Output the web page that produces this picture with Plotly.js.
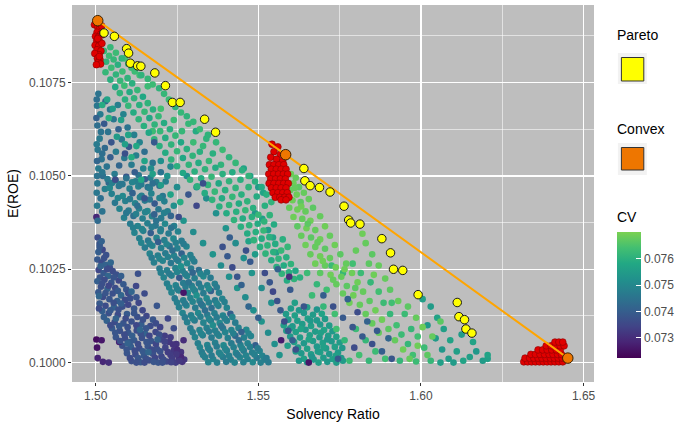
<!DOCTYPE html>
<html><head><meta charset="utf-8">
<script src="https://cdn.plot.ly/plotly-3.0.1.min.js"></script>
<style>html,body{margin:0;padding:0;background:#fff}#chart{width:685px;height:428px}</style>
</head><body><div id="chart"></div>
<script>
// ---- Data (x = Solvency Ratio, y = E(ROE), cv = CV) ----
const bandA = [
[1.5006,.10335,.0736],[1.5012,.10318,.0738],[1.5021,.10302,.0735],[1.5008,.10296,.0740],[1.5032,.10288,.0737],
[1.5005,.10276,.0739],[1.5018,.10268,.0736],[1.5030,.10262,.0741],[1.5043,.10255,.0737],[1.5009,.10248,.0735],[1.5024,.10240,.0739],[1.5052,.10245,.0736],[1.5038,.10232,.0742],[1.5063,.10236,.0737],[1.5013,.10228,.0738],
[1.5005,.10218,.0740],[1.5027,.10222,.0736],[1.5048,.10214,.0738],[1.5071,.10220,.0735],[1.5085,.10210,.0739],[1.5016,.10203,.0737],[1.5036,.10198,.0741],[1.5060,.10200,.0736],[1.5094,.10196,.0738],[1.5124,.10205,.0735],[1.5008,.10188,.0739],[1.5052,.10185,.0737],[1.5078,.10180,.0742],
[1.5022,.10176,.0736],[1.5042,.10170,.0738],[1.5066,.10165,.0740],[1.5090,.10168,.0736],[1.5106,.10172,.0737],[1.5132,.10160,.0735],[1.5012,.10158,.0739],[1.5030,.10152,.0736],[1.5056,.10148,.0741],[1.5082,.10150,.0737],[1.5118,.10145,.0738],[1.5144,.10140,.0735],[1.5020,.10138,.0740],
[1.5040,.10132,.0737],[1.5068,.10128,.0736],[1.5096,.10130,.0739],[1.5128,.10122,.0737],[1.5156,.10125,.0735],[1.5176,.10115,.0738],[1.5034,.10112,.0741],[1.5058,.10108,.0736],[1.5085,.10105,.0738],[1.5110,.10110,.0737],[1.5140,.10102,.0740],[1.5168,.10098,.0736],[1.5198,.10095,.0734],[1.5050,.10092,.0739],
[1.5074,.10085,.0737],[1.5100,.10080,.0738],[1.5126,.10086,.0736],[1.5152,.10078,.0741],[1.5184,.10082,.0735],[1.5212,.10072,.0733],[1.5062,.10068,.0738],[1.5090,.10065,.0736],[1.5118,.10060,.0739],[1.5142,.10066,.0737],[1.5170,.10058,.0738],[1.5200,.10062,.0735],[1.5226,.10055,.0732],[1.5248,.10050,.0731],
[1.5082,.10045,.0737],[1.5108,.10042,.0740],[1.5134,.10038,.0736],[1.5160,.10044,.0738],[1.5188,.10036,.0737],[1.5214,.10040,.0734],[1.5240,.10032,.0732],[1.5262,.10028,.0731],[1.5096,.10025,.0738],[1.5122,.10022,.0736],[1.5148,.10018,.0739],[1.5176,.10024,.0737],[1.5202,.10016,.0735],[1.5230,.10020,.0733],[1.5256,.10012,.0731],[1.5272,.10008,.0732],
[1.5110,.10004,.0737],[1.5138,.10001,.0739],[1.5164,.10006,.0736],[1.5192,.10000,.0738],[1.5218,.10003,.0735],[1.5246,.10000,.0733],[1.5266,.10002,.0731],
[1.5002,.10062,.0724],[1.5004,.10040,.0725],[1.5006,.10012,.0728],[1.5018,.10060,.0726],[1.5022,.10002,.0729],[1.5040,.10000,.0730],[1.5072,.10055,.0728],[1.5002,.10390,.0729],[1.5250,.10035,.0730],[1.5262,.10015,.0729],[1.5238,.10048,.0731],
[1.5150,.10185,.0736],[1.5188,.10152,.0738],[1.5130,.10238,.0737],[1.5222,.10118,.0735],[1.5240,.10092,.0736],[1.5270,.10060,.0730]
];
const bandAFill = [
[1.5012,.10310,.0739],[1.5026,.10280,.0737],[1.5015,.10258,.0741],[1.5035,.10250,.0736],[1.5055,.10228,.0738],[1.5020,.10212,.0737],[1.5040,.10206,.0735],[1.5068,.10192,.0739],[1.5100,.10186,.0736],[1.5030,.10186,.0738],
[1.5055,.10160,.0737],[1.5078,.10158,.0740],[1.5100,.10155,.0735],[1.5125,.10175,.0738],[1.5010,.10145,.0736],[1.5045,.10140,.0739],[1.5070,.10142,.0737],[1.5092,.10118,.0736],[1.5118,.10132,.0738],[1.5145,.10115,.0737],
[1.5025,.10122,.0740],[1.5045,.10100,.0736],[1.5072,.10098,.0739],[1.5098,.10095,.0737],[1.5125,.10100,.0735],[1.5155,.10092,.0738],[1.5185,.10105,.0736],[1.5060,.10080,.0738],[1.5088,.10075,.0736],[1.5112,.10072,.0740],
[1.5138,.10078,.0737],[1.5165,.10072,.0735],[1.5195,.10075,.0737],[1.5230,.10068,.0733],[1.5075,.10058,.0737],[1.5105,.10055,.0739],[1.5130,.10050,.0736],[1.5156,.10055,.0738],[1.5185,.10050,.0735],[1.5212,.10056,.0734],
[1.5095,.10035,.0738],[1.5120,.10032,.0736],[1.5145,.10030,.0739],[1.5172,.10035,.0736],[1.5198,.10030,.0737],[1.5222,.10028,.0733],[1.5248,.10022,.0732],[1.5105,.10012,.0736],[1.5130,.10012,.0738],[1.5155,.10010,.0737],
[1.5182,.10013,.0735],[1.5208,.10008,.0736],[1.5235,.10010,.0733],[1.5125,.10000,.0737],[1.5150,.10000,.0736],[1.5178,.10002,.0738],[1.5205,.10000,.0737],[1.5232,.10001,.0734],[1.5258,.10005,.0732],
[1.5018,.10325,.0741],[1.5046,.10268,.0742],[1.5078,.10232,.0740],[1.5110,.10190,.0742],[1.5010,.10178,.0742],[1.5062,.10118,.0741],[1.5136,.10088,.0742],[1.5098,.10052,.0741],[1.5162,.10028,.0742],[1.5190,.10062,.0741]
];
const bandBUpper = [
[1.5008,.10720,.0745],[1.5030,.10700,.0742],[1.5014,.10665,.0747],[1.5044,.10678,.0745],[1.5068,.10690,.0748],[1.5005,.10635,.0744],[1.5026,.10640,.0739],[1.5055,.10652,.0746],[1.5085,.10665,.0749],[1.5038,.10618,.0745],[1.5070,.10625,.0741],[1.5012,.10600,.0747],[1.5098,.10630,.0745],[1.5048,.10590,.0738],[1.5080,.10598,.0746],[1.5118,.10610,.0748],
[1.5006,.10570,.0746],[1.5028,.10575,.0743],[1.5062,.10565,.0747],[1.5102,.10578,.0739],[1.5135,.10590,.0749],[1.5018,.10545,.0745],[1.5045,.10550,.0740],[1.5088,.10548,.0746],[1.5124,.10555,.0748],[1.5150,.10565,.0744],[1.5008,.10520,.0747],[1.5034,.10525,.0745],[1.5072,.10528,.0742],[1.5110,.10530,.0747],[1.5146,.10520,.0749],[1.5175,.10535,.0745],
[1.5022,.10500,.0744],[1.5058,.10505,.0747],[1.5094,.10498,.0738],[1.5132,.10502,.0746],[1.5168,.10495,.0748],[1.5200,.10510,.0745],[1.5230,.10525,.0750],[1.5005,.10480,.0746],[1.5040,.10482,.0743],[1.5076,.10478,.0747],[1.5160,.10470,.0745],[1.5215,.10485,.0748],
[1.5003,.10705,.0744],[1.5004,.10688,.0746],[1.5002,.10655,.0741],[1.5016,.10618,.0745],[1.5003,.10585,.0747],[1.5020,.10560,.0744],[1.5004,.10540,.0742],[1.5020,.10510,.0746],[1.5004,.10500,.0745],[1.5003,.10455,.0746],[1.5015,.10440,.0744],[1.5004,.10420,.0747],[1.5020,.10405,.0745],[1.5006,.10380,.0743],[1.5028,.10465,.0748]
];
const bandB = [
[1.5036,.10492,.0747],[1.5061,.10488,.0749],[1.5094,.10494,.0745],[1.5123,.10486,.0748],[1.5151,.10491,.0740],[1.5186,.10484,.0748],
[1.5043,.10468,.0750],[1.5071,.10473,.0746],[1.5104,.10466,.0748],[1.5131,.10472,.0749],[1.5166,.10467,.0747],[1.5196,.10474,.0743],
[1.5049,.10452,.0748],[1.5083,.10446,.0750],[1.5113,.10454,.0741],[1.5141,.10447,.0748],[1.5171,.10453,.0749],[1.5206,.10446,.0746],
[1.5059,.10428,.0746],[1.5091,.10433,.0748],[1.5121,.10427,.0749],[1.5151,.10434,.0747],[1.5181,.10426,.0739],[1.5211,.10432,.0748],
[1.5073,.10412,.0749],[1.5101,.10407,.0747],[1.5133,.10413,.0748],[1.5159,.10406,.0750],[1.5193,.10411,.0746],[1.5221,.10405,.0748],
[1.5087,.10388,.0748],[1.5116,.10393,.0744],[1.5144,.10386,.0748],[1.5173,.10392,.0749],[1.5201,.10387,.0747],[1.5231,.10393,.0742],
[1.5106,.10372,.0747],[1.5129,.10366,.0749],[1.5159,.10373,.0748],[1.5184,.10367,.0746],[1.5213,.10372,.0750],[1.5241,.10366,.0748],
[1.5119,.10348,.0749],[1.5146,.10353,.0748],[1.5169,.10347,.0740],[1.5199,.10352,.0748],[1.5224,.10346,.0747],[1.5253,.10351,.0749],
[1.5134,.10333,.0748],[1.5161,.10327,.0746],[1.5187,.10334,.0749],[1.5211,.10328,.0748],[1.5239,.10332,.0750],[1.5264,.10326,.0747],
[1.5151,.10308,.0747],[1.5174,.10313,.0749],[1.5201,.10307,.0748],[1.5227,.10312,.0745],[1.5251,.10306,.0748],[1.5279,.10311,.0749],
[1.5166,.10292,.0749],[1.5191,.10287,.0748],[1.5214,.10293,.0747],[1.5241,.10286,.0749],[1.5264,.10292,.0741],[1.5291,.10288,.0748],
[1.5179,.10268,.0748],[1.5206,.10273,.0749],[1.5231,.10267,.0746],[1.5254,.10272,.0748],[1.5281,.10266,.0750],[1.5303,.10271,.0747],
[1.5196,.10252,.0747],[1.5219,.10247,.0748],[1.5245,.10253,.0749],[1.5267,.10246,.0748],[1.5293,.10252,.0747],[1.5317,.10248,.0744],
[1.5209,.10228,.0749],[1.5233,.10233,.0748],[1.5257,.10227,.0739],[1.5281,.10232,.0749],[1.5304,.10226,.0748],[1.5331,.10231,.0750],[1.5353,.10227,.0747],
[1.5219,.10212,.0748],[1.5246,.10207,.0749],[1.5269,.10213,.0747],[1.5295,.10206,.0748],[1.5317,.10212,.0746],[1.5343,.10207,.0749],[1.5366,.10211,.0748],
[1.5233,.10188,.0749],[1.5255,.10193,.0748],[1.5283,.10187,.0750],[1.5305,.10192,.0748],[1.5331,.10186,.0747],[1.5354,.10192,.0741],[1.5379,.10187,.0748],
[1.5243,.10172,.0747],[1.5269,.10167,.0748],[1.5291,.10173,.0749],[1.5319,.10166,.0748],[1.5341,.10172,.0750],[1.5367,.10167,.0747],[1.5389,.10171,.0749],
[1.5256,.10148,.0748],[1.5279,.10153,.0749],[1.5306,.10147,.0747],[1.5329,.10152,.0748],[1.5356,.10146,.0744],[1.5377,.10152,.0748],[1.5403,.10147,.0749],
[1.5267,.10133,.0749],[1.5293,.10127,.0748],[1.5315,.10133,.0750],[1.5343,.10128,.0747],[1.5365,.10132,.0748],[1.5391,.10126,.0749],[1.5414,.10131,.0740],
[1.5281,.10108,.0748],[1.5304,.10113,.0747],[1.5331,.10107,.0749],[1.5354,.10112,.0748],[1.5381,.10106,.0750],[1.5403,.10112,.0748],[1.5429,.10107,.0747],
[1.5291,.10092,.0747],[1.5319,.10087,.0749],[1.5341,.10093,.0748],[1.5367,.10086,.0748],[1.5391,.10092,.0746],[1.5417,.10087,.0749],[1.5439,.10093,.0748],[1.5463,.10088,.0750],
[1.5305,.10068,.0749],[1.5329,.10073,.0748],[1.5356,.10067,.0747],[1.5379,.10072,.0749],[1.5406,.10066,.0748],[1.5429,.10072,.0742],[1.5456,.10067,.0748],[1.5477,.10071,.0749],
[1.5314,.10052,.0748],[1.5343,.10047,.0749],[1.5367,.10053,.0748],[1.5393,.10046,.0750],[1.5417,.10052,.0747],[1.5445,.10047,.0748],[1.5467,.10052,.0749],[1.5491,.10046,.0740],
[1.5326,.10028,.0747],[1.5351,.10033,.0748],[1.5379,.10027,.0749],[1.5403,.10032,.0748],[1.5431,.10026,.0749],[1.5455,.10032,.0747],[1.5481,.10027,.0748],[1.5504,.10031,.0749],
[1.5336,.10014,.0748],[1.5361,.10009,.0749],[1.5391,.10015,.0747],[1.5415,.10008,.0748],[1.5443,.10014,.0749],[1.5467,.10009,.0748],[1.5495,.10013,.0746],[1.5519,.10008,.0748],
[1.5346,.10001,.0749],[1.5373,.10000,.0748],[1.5401,.10002,.0747],[1.5427,.10000,.0749],[1.5454,.10001,.0748],[1.5483,.10001,.0750],[1.5507,.10000,.0748],[1.5531,.10001,.0747]
];
const bandBFill = [
[1.5050,.10481,.0748],[1.5082,.10478,.0746],[1.5112,.10483,.0749],[1.5140,.10477,.0747],[1.5175,.10480,.0744],
[1.5068,.10441,.0749],[1.5105,.10438,.0747],[1.5136,.10443,.0748],[1.5166,.10437,.0746],[1.5196,.10441,.0749],
[1.5094,.10401,.0746],[1.5124,.10398,.0748],[1.5152,.10403,.0749],[1.5180,.10397,.0741],[1.5210,.10401,.0748],
[1.5115,.10361,.0748],[1.5142,.10358,.0749],[1.5172,.10363,.0747],[1.5200,.10357,.0748],[1.5232,.10361,.0745],
[1.5140,.10321,.0749],[1.5166,.10318,.0748],[1.5192,.10323,.0740],[1.5218,.10317,.0749],[1.5246,.10321,.0748],[1.5270,.10318,.0747],
[1.5172,.10281,.0747],[1.5196,.10278,.0749],[1.5222,.10283,.0748],[1.5248,.10277,.0747],[1.5272,.10281,.0749],[1.5297,.10278,.0748],
[1.5200,.10241,.0748],[1.5226,.10238,.0747],[1.5250,.10243,.0749],[1.5275,.10237,.0748],[1.5298,.10241,.0742],[1.5322,.10238,.0749],[1.5342,.10242,.0748],
[1.5226,.10201,.0749],[1.5250,.10198,.0748],[1.5276,.10203,.0747],[1.5300,.10197,.0749],[1.5324,.10201,.0748],[1.5348,.10198,.0750],[1.5372,.10202,.0747],
[1.5250,.10161,.0748],[1.5274,.10158,.0747],[1.5298,.10163,.0749],[1.5324,.10157,.0745],[1.5348,.10161,.0748],[1.5372,.10158,.0749],[1.5396,.10162,.0748],
[1.5274,.10121,.0747],[1.5298,.10118,.0749],[1.5322,.10123,.0748],[1.5348,.10117,.0749],[1.5372,.10121,.0747],[1.5397,.10118,.0748],[1.5420,.10122,.0749],
[1.5298,.10081,.0748],[1.5324,.10078,.0749],[1.5348,.10083,.0747],[1.5373,.10077,.0748],[1.5398,.10081,.0749],[1.5423,.10078,.0748],[1.5448,.10082,.0741],[1.5470,.10078,.0749],
[1.5320,.10041,.0749],[1.5346,.10038,.0748],[1.5372,.10043,.0747],[1.5398,.10037,.0749],[1.5424,.10041,.0748],[1.5450,.10038,.0749],[1.5474,.10042,.0748],[1.5498,.10038,.0747],
[1.5330,.10020,.0748],[1.5356,.10019,.0747],[1.5384,.10022,.0749],[1.5410,.10018,.0748],[1.5436,.10021,.0747],[1.5462,.10019,.0749],[1.5488,.10022,.0748],[1.5512,.10018,.0749],[1.5525,.10012,.0747],
[1.5128,.10420,.0744],[1.5186,.10380,.0745],[1.5236,.10300,.0744],[1.5286,.10215,.0745],[1.5336,.10140,.0744],[1.5386,.10098,.0745],[1.5440,.10060,.0744],[1.5262,.10258,.0752],[1.5310,.10180,.0752],[1.5360,.10100,.0751]
];
const bandC = [
[1.5025,.10835,.0762],[1.5041,.10822,.0763],[1.5032,.10806,.0761],[1.5055,.10812,.0762],[1.5048,.10790,.0763],[1.5068,.10798,.0760],[1.5030,.10778,.0762],[1.5062,.10772,.0761],[1.5082,.10780,.0763],[1.5045,.10758,.0760],[1.5075,.10755,.0762],[1.5098,.10762,.0761],[1.5060,.10738,.0758],[1.5088,.10742,.0763],[1.5112,.10748,.0760],
[1.5074,.10722,.0761],[1.5104,.10725,.0759],[1.5128,.10730,.0762],[1.5090,.10705,.0760],[1.5118,.10708,.0761],[1.5145,.10712,.0758],[1.5100,.10688,.0762],[1.5134,.10690,.0760],[1.5160,.10695,.0761],[1.5116,.10670,.0759],[1.5150,.10672,.0762],[1.5176,.10678,.0760],
[1.5132,.10652,.0761],[1.5165,.10655,.0758],[1.5193,.10660,.0762],[1.5148,.10634,.0760],[1.5181,.10638,.0761],[1.5210,.10642,.0759],[1.5163,.10616,.0758],[1.5198,.10620,.0762],[1.5228,.10625,.0760],[1.5180,.10598,.0761],[1.5214,.10602,.0759],[1.5245,.10608,.0762],
[1.5196,.10580,.0760],[1.5232,.10584,.0761],[1.5262,.10590,.0758],[1.5214,.10562,.0759],[1.5250,.10566,.0762],[1.5280,.10572,.0760],[1.5232,.10544,.0761],[1.5268,.10548,.0758],[1.5298,.10554,.0761],[1.5320,.10565,.0760],[1.5340,.10600,.0761],[1.5308,.10620,.0759],[1.5285,.10640,.0762],
[1.5250,.10526,.0760],[1.5286,.10530,.0761],[1.5316,.10535,.0759],[1.5348,.10540,.0762],[1.5268,.10508,.0758],[1.5304,.10512,.0760],[1.5336,.10518,.0761],[1.5368,.10522,.0759],[1.5290,.10490,.0761],[1.5324,.10494,.0759],[1.5356,.10498,.0762],[1.5390,.10505,.0760],
[1.5312,.10472,.0760],[1.5345,.10476,.0761],[1.5378,.10480,.0758],[1.5410,.10486,.0761],[1.5335,.10454,.0759],[1.5366,.10458,.0762],[1.5398,.10462,.0760],[1.5430,.10468,.0761],[1.5358,.10436,.0761],[1.5388,.10440,.0759],[1.5420,.10444,.0762],[1.5448,.10450,.0760],
[1.5380,.10418,.0760],[1.5410,.10422,.0761],[1.5440,.10426,.0759],[1.5466,.10432,.0761],[1.5402,.10400,.0759],[1.5432,.10404,.0760],[1.5460,.10408,.0762],[1.5484,.10414,.0760],[1.5425,.10382,.0761],[1.5452,.10386,.0759],[1.5480,.10390,.0760],[1.5500,.10396,.0762],
[1.5446,.10364,.0760],[1.5472,.10368,.0761],[1.5498,.10372,.0759],[1.5518,.10378,.0761],[1.5466,.10346,.0759],[1.5492,.10350,.0760],[1.5516,.10354,.0762],[1.5486,.10328,.0761],[1.5510,.10332,.0759],[1.5534,.10336,.0760],[1.5505,.10310,.0760],[1.5528,.10314,.0761],[1.5552,.10318,.0759],
[1.5522,.10292,.0761],[1.5546,.10296,.0760],[1.5570,.10300,.0762],[1.5540,.10274,.0759],[1.5562,.10278,.0761],[1.5586,.10282,.0760],[1.5556,.10256,.0760],[1.5578,.10260,.0759],[1.5600,.10264,.0761],[1.5572,.10238,.0761],[1.5594,.10242,.0760],[1.5614,.10246,.0758],[1.5588,.10220,.0759],[1.5610,.10224,.0761],[1.5628,.10228,.0760]
];
const frontierGreen = [
[1.5045,.10845,.0762],[1.5062,.10830,.0763],[1.5080,.10815,.0761],[1.5100,.10800,.0762],[1.5120,.10780,.0763],[1.5140,.10770,.0761],[1.5160,.10760,.0762],[1.5175,.10745,.0763],[1.5195,.10735,.0761],[1.5210,.10720,.0762],
[1.5225,.10705,.0763],[1.5245,.10685,.0761],[1.5262,.10670,.0762],[1.5280,.10660,.0761],[1.5300,.10645,.0762],[1.5320,.10625,.0763],[1.5345,.10610,.0761],[1.5370,.10590,.0762],[1.5390,.10570,.0763],[1.5410,.10550,.0761],
[1.5430,.10535,.0762],[1.5450,.10515,.0760],[1.5470,.10500,.0761],[1.5490,.10485,.0760],[1.5510,.10470,.0759],[1.5525,.10450,.0760],[1.5540,.10430,.0761]
];
const greenScatter = [
[1.5035,.10705,.0757],[1.5052,.10680,.0755],[1.5020,.10690,.0759],[1.5078,.10650,.0756],[1.5040,.10655,.0760],[1.5100,.10610,.0757],[1.5065,.10605,.0755],[1.5125,.10580,.0758],[1.5090,.10585,.0756],[1.5150,.10540,.0757],
[1.5110,.10550,.0759],[1.5175,.10505,.0756],[1.5140,.10490,.0758],[1.5200,.10475,.0755],[1.5230,.10450,.0757],[1.5260,.10430,.0759],[1.5175,.10620,.0763],[1.5200,.10680,.0764],[1.5160,.10740,.0763],[1.5135,.10770,.0764],
[1.5110,.10790,.0763],[1.5090,.10815,.0764],[1.5240,.10650,.0763],[1.5265,.10620,.0762],[1.5300,.10590,.0763],[1.5330,.10580,.0762],[1.5360,.10560,.0760],[1.5385,.10530,.0761],[1.5420,.10510,.0759],[1.5445,.10490,.0760],
[1.5470,.10470,.0761],[1.5495,.10445,.0759],[1.5520,.10420,.0760],[1.5535,.10395,.0761],[1.5548,.10370,.0759],[1.5575,.10330,.0760],[1.5590,.10310,.0762],[1.5475,.10500,.0756],[1.5455,.10520,.0757],[1.5500,.10470,.0755],
[1.5515,.10455,.0757],[1.5490,.10400,.0754],[1.5512,.10385,.0756],[1.5530,.10355,.0755],[1.5545,.10335,.0757],[1.5555,.10295,.0756],[1.5490,.10290,.0755],[1.5470,.10325,.0757]
];
const tealMid = [
[1.5240,.10420,.0752],[1.5270,.10380,.0753],[1.5300,.10350,.0751],[1.5330,.10320,.0752],[1.5360,.10290,.0753],[1.5385,.10260,.0751],[1.5410,.10230,.0752],[1.5435,.10200,.0753],[1.5460,.10175,.0751],[1.5485,.10140,.0752],[1.5510,.10110,.0753],[1.5530,.10080,.0751],[1.5550,.10050,.0752],[1.5565,.10020,.0753],
[1.5540,.10160,.0752],[1.5510,.10200,.0751],[1.5480,.10240,.0753],[1.5455,.10280,.0752],[1.5430,.10320,.0751],[1.5400,.10360,.0753],[1.5370,.10400,.0752],[1.5340,.10440,.0751],[1.5310,.10470,.0753],[1.5280,.10500,.0752],[1.5250,.10470,.0751],[1.5220,.10500,.0753],[1.5200,.10540,.0752],[1.5170,.10520,.0751]
];
const tealLow = [
[1.5600,.10145,.0755],[1.5625,.10140,.0754],[1.5650,.10148,.0756],[1.5680,.10142,.0753],
[1.5585,.10130,.0755],[1.5612,.10126,.0756],[1.5640,.10133,.0754],[1.5668,.10128,.0755],[1.5695,.10131,.0757],
[1.5592,.10115,.0754],[1.5620,.10112,.0755],[1.5652,.10118,.0756],[1.5680,.10113,.0754],[1.5705,.10117,.0755],
[1.5578,.10100,.0756],[1.5605,.10097,.0754],[1.5635,.10103,.0755],[1.5662,.10098,.0756],[1.5690,.10102,.0754],[1.5718,.10099,.0755],
[1.5586,.10085,.0755],[1.5615,.10082,.0756],[1.5645,.10088,.0754],[1.5675,.10083,.0755],[1.5702,.10087,.0757],[1.5728,.10084,.0754],
[1.5598,.10070,.0754],[1.5628,.10067,.0755],[1.5658,.10073,.0756],[1.5688,.10068,.0754],[1.5715,.10072,.0755],[1.5740,.10069,.0756],
[1.5610,.10055,.0756],[1.5640,.10052,.0754],[1.5668,.10058,.0755],[1.5698,.10053,.0756],[1.5725,.10057,.0754],[1.5750,.10054,.0755],
[1.5622,.10040,.0755],[1.5650,.10037,.0756],[1.5680,.10043,.0754],[1.5708,.10038,.0755],[1.5735,.10042,.0756],[1.5758,.10039,.0754],
[1.5632,.10025,.0754],[1.5662,.10022,.0755],[1.5690,.10028,.0756],[1.5718,.10023,.0754],[1.5745,.10027,.0755],
[1.5640,.10010,.0756],[1.5670,.10008,.0754],[1.5700,.10013,.0755],[1.5728,.10009,.0756],[1.5755,.10012,.0754],
[1.5650,.10001,.0755],[1.5685,.10000,.0756],[1.5712,.10002,.0754],[1.5740,.10000,.0755],
[1.5612,.10160,.0756],[1.5598,.10092,.0755],[1.5630,.10090,.0757],[1.5660,.10112,.0754],[1.5692,.10080,.0756],[1.5615,.10030,.0755],[1.5655,.10062,.0757],[1.5683,.10030,.0755],[1.5712,.10062,.0754],[1.5738,.10018,.0756],
[1.5665,.10015,.0753],[1.5700,.10042,.0756],[1.5625,.10005,.0754],[1.5760,.10005,.0755],[1.5590,.10045,.0756]
];
const bandD = [
[1.5600,.10505,.0769],[1.5615,.10495,.0768],[1.5608,.10480,.0769],[1.5625,.10470,.0767],[1.5598,.10462,.0768],[1.5618,.10450,.0769],[1.5640,.10455,.0768],[1.5605,.10435,.0769],[1.5630,.10430,.0767],[1.5655,.10438,.0768],
[1.5595,.10415,.0768],[1.5620,.10410,.0769],[1.5645,.10405,.0768],[1.5668,.10415,.0767],[1.5608,.10390,.0769],[1.5635,.10385,.0768],[1.5660,.10380,.0769],[1.5690,.10392,.0768],[1.5620,.10365,.0767],[1.5648,.10360,.0769],
[1.5675,.10355,.0768],[1.5705,.10365,.0769],[1.5632,.10340,.0768],[1.5662,.10335,.0767],[1.5690,.10330,.0769],[1.5720,.10340,.0768],[1.5645,.10315,.0769],[1.5675,.10310,.0768],[1.5705,.10305,.0767],[1.5735,.10315,.0769],
[1.5660,.10290,.0768],[1.5690,.10285,.0769],[1.5720,.10280,.0768],[1.5752,.10290,.0767],[1.5675,.10265,.0769],[1.5705,.10260,.0768],[1.5738,.10255,.0769],[1.5770,.10265,.0768],[1.5690,.10240,.0767],[1.5722,.10235,.0769],
[1.5755,.10230,.0768],[1.5788,.10240,.0769],[1.5740,.10210,.0768],[1.5772,.10205,.0767],[1.5805,.10215,.0769],[1.5760,.10185,.0768],[1.5792,.10180,.0769],[1.5822,.10190,.0768],[1.5780,.10160,.0769],[1.5812,.10155,.0768],
[1.5842,.10165,.0767],[1.5830,.10130,.0768],[1.5860,.10140,.0769],[1.5850,.10105,.0768],[1.5880,.10115,.0769],[1.5870,.10080,.0768],[1.5900,.10090,.0767],[1.5920,.10060,.0768],[1.5945,.10035,.0769],[1.5965,.10010,.0768],[1.6020,.10020,.0767],[1.5990,.10045,.0769],
[1.5612,.10468,.0768],[1.5632,.10418,.0769],[1.5652,.10372,.0767],[1.5682,.10322,.0768],[1.5698,.10272,.0769],[1.5730,.10222,.0768],[1.5765,.10250,.0769],[1.5798,.10200,.0767],
[1.5830,.10320,.0768],[1.5850,.10290,.0767],[1.5870,.10260,.0768],[1.5855,.10235,.0769],[1.5890,.10225,.0768],[1.5905,.10195,.0767],[1.5820,.10345,.0769],[1.5800,.10300,.0768],[1.5840,.10265,.0767],[1.5930,.10165,.0768],
[1.5960,.10150,.0767],[1.5985,.10120,.0768],[1.6005,.10095,.0769],[1.6035,.10070,.0768],[1.6060,.10110,.0767]
];
const greenLow = [
[1.5650,.10240,.0763],[1.5680,.10210,.0762],[1.5710,.10195,.0764],[1.5665,.10180,.0763],[1.5700,.10150,.0762],[1.5735,.10130,.0764],[1.5725,.10260,.0763],[1.5760,.10240,.0762],[1.5790,.10265,.0764],[1.5815,.10240,.0763],
[1.5845,.10215,.0762],[1.5870,.10190,.0764],[1.5885,.10160,.0763],[1.5905,.10130,.0762],[1.5925,.10100,.0764],[1.5940,.10075,.0763],[1.5960,.10050,.0762],[1.5975,.10020,.0764],[1.5985,.10003,.0763],[1.5935,.10005,.0762],
[1.5890,.10010,.0764],[1.5860,.10030,.0763],[1.5840,.10005,.0762],[1.5810,.10020,.0764],[1.5780,.10005,.0763],[1.5765,.10060,.0762],[1.5740,.10090,.0764],[1.5800,.10090,.0763],[1.5830,.10060,.0762],[1.5910,.10160,.0764],
[1.5950,.10130,.0763],[1.5970,.10090,.0762],[1.5990,.10070,.0764],[1.6010,.10040,.0763],[1.6030,.10005,.0762]
];
const tealRight = [
[1.6005,.10170,.0756],[1.6030,.10150,.0755],[1.6050,.10120,.0757],[1.6020,.10100,.0754],[1.6070,.10090,.0756],[1.6045,.10065,.0755],[1.6090,.10060,.0757],[1.6065,.10035,.0754],[1.6110,.10030,.0756],[1.6085,.10010,.0755],
[1.6130,.10005,.0757],[1.6150,.10015,.0756],[1.6170,.10030,.0754],[1.6190,.10005,.0755],[1.6205,.10010,.0756],[1.6205,.10020,.0757],[1.6100,.10000,.0755],[1.6060,.10000,.0756],[1.6160,.10055,.0757],[1.6125,.10075,.0755]
];
const blueScatter = [
[1.5390,.10310,.0737],[1.5405,.10285,.0739],[1.5420,.10255,.0736],[1.5435,.10230,.0738],[1.5448,.10208,.0741],[1.5412,.10335,.0740],[1.5462,.10300,.0737],[1.5475,.10270,.0739],[1.5520,.10240,.0736],[1.5535,.10215,.0738],
[1.5545,.10190,.0735],[1.5558,.10165,.0737],[1.5568,.10140,.0739],[1.5580,.10110,.0736],[1.5592,.10085,.0738],[1.5605,.10060,.0740],[1.5615,.10035,.0737],[1.5560,.10250,.0741],[1.5598,.10195,.0739],[1.5640,.10150,.0738],
[1.5700,.10180,.0740],[1.5730,.10150,.0737],[1.5760,.10120,.0739],[1.5775,.10170,.0741],[1.5790,.10095,.0738],[1.5805,.10135,.0736],[1.5820,.10070,.0739],[1.5835,.10110,.0741],[1.5850,.10050,.0737],[1.5865,.10085,.0739],
[1.5880,.10030,.0740],[1.5900,.10065,.0742],[1.5910,.10010,.0738],[1.5795,.10040,.0736],[1.5745,.10010,.0739],[1.5470,.10150,.0742],[1.5500,.10120,.0740],[1.5255,.10390,.0736],[1.5285,.10450,.0738],[1.5310,.10420,.0735],
[1.5330,.10480,.0737],[1.5180,.10590,.0739],[1.5090,.10560,.0737],[1.5060,.10490,.0736],[1.5120,.10510,.0740],[1.5150,.10440,.0738],
[1.5655,.10000,.0726],[1.5570,.10060,.0727],[1.5270,.10187,.0726],[1.5595,.10230,.0730]
];
const redX = [1.4996,1.5006,1.5012,1.5018,1.5004,1.5015,1.4999,1.5008,1.5020,1.5003,1.5014,1.4998,1.5009,1.5019,1.5004,1.5016,1.5010,1.4997,1.5005,1.5013,1.5008,1.5015,1.5002,1.5011,1.5006,
 1.5542,1.5560,1.5548,1.5568,1.5538,1.5556,1.5575,
 1.5534,1.5548,1.5563,1.5578,1.5540,1.5555,1.5570,1.5585,1.5532,1.5547,1.5562,1.5577,1.5590,1.5538,1.5553,1.5568,1.5583,1.5533,1.5548,1.5563,1.5578,1.5592,1.5540,1.5555,1.5570,1.5585,1.5545,1.5560,1.5575,1.5589,1.5552,1.5566,1.5581,1.5594,1.5570,1.5585,
 1.6316,1.6328,1.6340,1.6352,1.6364,1.6376,1.6388,1.6400,1.6412,1.6424,1.6436,1.6320,1.6334,1.6347,1.6360,1.6372,1.6385,1.6398,1.6410,1.6422,1.6434,1.6338,1.6352,1.6366,1.6380,1.6394,1.6406,1.6420,1.6432,1.6360,1.6374,1.6388,1.6402,1.6416,1.6428,1.6385,1.6400,1.6414,1.6428,1.6440,1.6412,1.6424,1.6436];
const redY = [.10905,.10900,.10895,.10902,.10885,.10880,.10874,.10872,.10878,.10862,.10858,.10850,.10848,.10855,.10838,.10835,.10825,.10828,.10815,.10812,.10805,.10800,.10798,.10820,.10868,
 .10585,.10578,.10565,.10558,.10550,.10545,.10540,
 .10530,.10530,.10530,.10530,.10518,.10518,.10518,.10518,.10505,.10505,.10505,.10505,.10505,.10492,.10492,.10492,.10492,.10480,.10480,.10480,.10480,.10480,.10468,.10468,.10468,.10468,.10455,.10455,.10455,.10455,.10443,.10443,.10443,.10443,.10436,.10436,
 .10002,.10002,.10002,.10002,.10002,.10002,.10002,.10002,.10002,.10002,.10002,.10012,.10012,.10012,.10012,.10012,.10012,.10012,.10012,.10012,.10012,.10022,.10022,.10022,.10022,.10022,.10022,.10022,.10022,.10034,.10034,.10034,.10034,.10034,.10034,.10045,.10045,.10045,.10045,.10045,.10055,.10055,.10055];
const paretoX = [1.50254,1.50573,1.50949,1.51010,1.51063,1.51286,1.51387,1.51816,1.52143,1.52358,1.52594,1.53347,1.53684,1.56400,1.56430,1.56592,1.56880,1.57205,1.57634,1.57777,1.57839,1.58124,1.58797,1.59064,1.59155,1.59440,1.59912,1.61115,1.61167,1.61339,1.61382,1.61566];
const paretoY = [.10883,.10874,.10841,.10829,.10802,.10795,.10794,.10776,.10742,.10697,.10697,.10652,.10617,.10520,.10487,.10474,.10469,.10457,.10419,.10382,.10374,.10371,.10332,.10294,.10250,.10247,.10182,.10161,.10123,.10115,.10090,.10079];
const convexX = [1.50061,1.55839,1.64514];
const convexY = [.10916,.10557,.10012];
const cvTicks = [0.073,0.074,0.075,0.076];

// ---- build ----
const cloud = [].concat(bandA, bandAFill, bandBUpper, bandB, bandBFill, tealMid, greenScatter, bandC, frontierGreen, tealLow, greenLow, tealRight, bandD, blueScatter);
const viridis = [[0,'#440154'],[0.125,'#482475'],[0.25,'#414487'],[0.375,'#355F8D'],[0.5,'#2A788E'],[0.625,'#21918C'],[0.75,'#22A884'],[0.875,'#43BF71'],[1,'#7AD151']];
const FONT = 'Liberation Sans, Arial, sans-serif';
const L = 72, R = 596, T = 5, B = 382;
const px = v => (v - L) / (R - L);
const py = v => (B - v) / (B - T);
const CMIN = 0.07222, CMAX = 0.07703, CB_TOP = 232, CB_BOT = 358;

const traces = [
  {type:'scatter', mode:'markers', x: cloud.map(p=>p[0]), y: cloud.map(p=>p[1]),
   marker:{size:6.6, color: cloud.map(p=>p[2]), colorscale: viridis, cmin:CMIN, cmax:CMAX,
     showscale:true,
     colorbar:{x:px(619), xanchor:'left', y:py((CB_TOP+CB_BOT)/2), yanchor:'middle', len:(CB_BOT-CB_TOP)/(B-T), lenmode:'fraction',
       thickness:24, thicknessmode:'pixels', outlinewidth:0, xpad:0, ypad:0,
       tickmode:'array', tickvals:cvTicks, ticktext:cvTicks.map(v=>v.toFixed(3)),
       ticks:'inside', ticklen:5, tickcolor:'white', tickwidth:1,
       tickfont:{family:FONT, size:12, color:'#4D4D4D'}}},
   hoverinfo:'skip', showlegend:false},
  {type:'scatter', mode:'markers', x: redX, y: redY,
   marker:{size:6.8, color:'#E00000', line:{color:'#8B0000', width:0.6}}, hoverinfo:'skip', showlegend:false},
  {type:'scatter', mode:'lines', x: convexX, y: convexY, line:{color:'#FFA500', width:2}, hoverinfo:'skip', showlegend:false},
  {type:'scatter', mode:'markers', x: paretoX, y: paretoY,
   marker:{size:8.5, color:'#FFFF00', line:{color:'#1a1a1a', width:1}}, hoverinfo:'skip', showlegend:false},
  {type:'scatter', mode:'markers', x: convexX, y: convexY,
   marker:{size:10.5, color:'#EE7600', line:{color:'#3a2000', width:1}}, hoverinfo:'skip', showlegend:false}
];

const axisCommon = {showline:false, zeroline:false, ticks:'outside', ticklen:3, tickwidth:1, tickcolor:'#333333',
  showgrid:true, gridcolor:'#FFFFFF', gridwidth:1.1, tickfont:{family:FONT, size:12, color:'#4D4D4D'}, fixedrange:true};

const cbTickShapes = cvTicks.map(v => {
  const yy = CB_BOT - (v - CMIN) / (CMAX - CMIN) * (CB_BOT - CB_TOP);
  return {type:'line', xref:'paper', yref:'paper', x0:px(619), x1:px(624), y0:py(yy), y1:py(yy), line:{color:'white', width:1}};
});

const layout = {
  width:685, height:428, margin:{l:L, r:685-R, t:T, b:428-B},
  paper_bgcolor:'#FFFFFF', plot_bgcolor:'#BEBEBE', font:{family:FONT},
  showlegend:false,
  xaxis:Object.assign({}, axisCommon, {range:[1.4927,1.6532], tickmode:'array', tickvals:[1.5,1.55,1.6,1.65], ticktext:['1.50','1.55','1.60','1.65'],
    minor:{tickmode:'array', tickvals:[1.525,1.575,1.625], showgrid:true, gridcolor:'#FFFFFF', gridwidth:0.55, ticks:''},
    title:{text:'Solvency Ratio', font:{family:FONT, size:14, color:'#000000'}, standoff:6}}),
  yaxis:Object.assign({}, axisCommon, {range:[0.09948,0.10958], tickmode:'array', tickvals:[0.1,0.1025,0.105,0.1075], ticktext:['0.1000','0.1025','0.1050','0.1075'],
    minor:{tickmode:'array', tickvals:[0.10125,0.10375,0.10625,0.10875], showgrid:true, gridcolor:'#FFFFFF', gridwidth:0.55, ticks:''},
    title:{text:'E(ROE)', font:{family:FONT, size:14, color:'#000000'}, standoff:6}}),
  shapes:[
    {type:'rect', xref:'paper', yref:'paper', x0:px(620), x1:px(649), y0:py(84), y1:py(53), fillcolor:'#F2F2F2', line:{width:0}},
    {type:'rect', xref:'paper', yref:'paper', x0:px(623.5), x1:px(646), y0:py(81), y1:py(57.5), fillcolor:'#FFFF00', line:{color:'#333333', width:1}},
    {type:'rect', xref:'paper', yref:'paper', x0:px(620), x1:px(649), y0:py(175), y1:py(143), fillcolor:'#F2F2F2', line:{width:0}},
    {type:'rect', xref:'paper', yref:'paper', x0:px(623.5), x1:px(646), y0:py(170), y1:py(147.5), fillcolor:'#EE7600', line:{color:'#333333', width:1}}
  ].concat(cbTickShapes),
  annotations:[
    {xref:'paper', yref:'paper', x:px(617), y:py(35), xanchor:'left', yanchor:'middle', text:'Pareto', showarrow:false, font:{family:FONT, size:14, color:'#000000'}},
    {xref:'paper', yref:'paper', x:px(617), y:py(129), xanchor:'left', yanchor:'middle', text:'Convex', showarrow:false, font:{family:FONT, size:14, color:'#000000'}},
    {xref:'paper', yref:'paper', x:px(617), y:py(217), xanchor:'left', yanchor:'middle', text:'CV', showarrow:false, font:{family:FONT, size:14, color:'#000000'}}
  ]
};
Plotly.newPlot('chart', traces, layout, {displayModeBar:false, staticPlot:true});
</script></body></html>
